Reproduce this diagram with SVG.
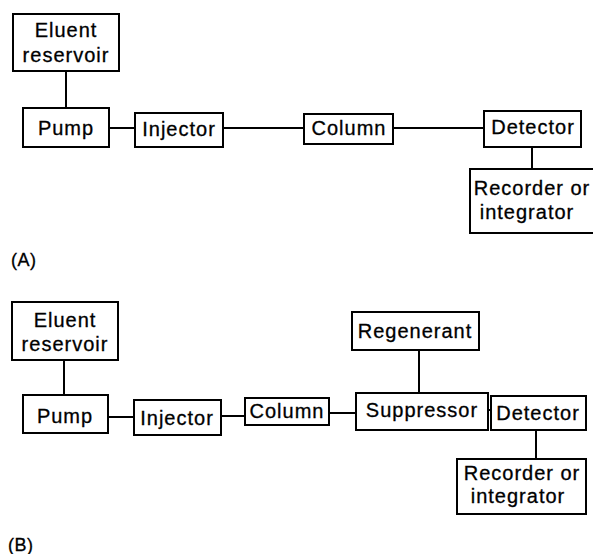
<svg xmlns="http://www.w3.org/2000/svg" width="593" height="554" viewBox="0 0 593 554">
<style>
rect{fill:#fff;stroke:#000;stroke-width:2}
line{stroke:#000;stroke-width:2}
text{font-family:"Liberation Sans",Arial,sans-serif;font-size:20px;letter-spacing:1px;fill:#000;stroke:#000;stroke-width:0.3;text-anchor:middle}
.lbl{text-anchor:start;font-size:18px;letter-spacing:0.5px}
</style>
<rect x="0" y="0" width="593" height="554" style="stroke:none"/>
<g id="connectors">
<line x1="66" y1="71" x2="66" y2="108"/>
<line x1="109" y1="128" x2="135" y2="128"/>
<line x1="223" y1="128" x2="304" y2="128"/>
<line x1="393" y1="128" x2="484" y2="128"/>
<line x1="532" y1="147" x2="532" y2="169"/>
<line x1="64" y1="360" x2="64" y2="395"/>
<line x1="108" y1="417" x2="134" y2="417"/>
<line x1="221" y1="416" x2="245" y2="416"/>
<line x1="329" y1="413" x2="356" y2="413"/>
<line x1="488" y1="410" x2="491" y2="410"/>
<line x1="419" y1="350" x2="419" y2="393"/>
<line x1="536" y1="430" x2="536" y2="459"/>
</g>
<g id="a-eluent"><rect x="13" y="14" width="106" height="57"/><text x="66" y="37">Eluent</text><text x="66" y="62">reservoir</text></g>
<g id="a-pump"><rect x="23" y="108" width="86" height="39"/><text x="66" y="135">Pump</text></g>
<g id="a-injector"><rect x="135" y="113" width="88" height="34"/><text x="179" y="136">Injector</text></g>
<g id="a-column"><rect x="304" y="114" width="89" height="30"/><text x="349" y="135">Column</text></g>
<g id="a-detector"><rect x="484" y="111" width="97" height="36"/><text x="533" y="134">Detector</text></g>
<g id="a-recorder"><rect x="470" y="169" width="126" height="64"/><text x="532" y="195">Recorder or</text><text x="527" y="219">integrator</text></g>
<text class="lbl" x="11" y="266">(A)</text>
<g id="b-eluent"><rect x="12" y="302" width="106" height="58"/><text x="65" y="327">Eluent</text><text x="65" y="351">reservoir</text></g>
<g id="b-pump"><rect x="23" y="395" width="85" height="38"/><text x="65" y="423">Pump</text></g>
<g id="b-injector"><rect x="134" y="400" width="87" height="35"/><text x="177" y="425">Injector</text></g>
<g id="b-column"><rect x="245" y="398" width="84" height="27"/><text x="287" y="418">Column</text></g>
<g id="b-regenerant"><rect x="352" y="312" width="127" height="38"/><text x="415" y="338">Regenerant</text></g>
<g id="b-suppressor"><rect x="356" y="393" width="132" height="37"/><text x="422" y="417">Suppressor</text></g>
<g id="b-detector"><rect x="491" y="396" width="95" height="34"/><text x="538" y="420">Detector</text></g>
<g id="b-recorder"><rect x="457" y="459" width="129" height="55"/><text x="522" y="480">Recorder or</text><text x="518" y="503">integrator</text></g>
<text class="lbl" x="8" y="551">(B)</text>
</svg>
